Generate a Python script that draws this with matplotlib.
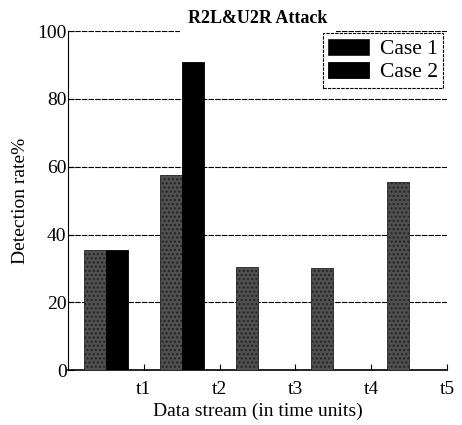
import numpy as np
import matplotlib.pyplot as plt

# Data
groups = [0.5, 1.5, 2.5, 3.5, 4.5]
case1 = [35.5, 57.5, 30.5, 30.0, 55.5]
case2 = [35.5, 91.0, 0, 0, 0]
tick_pos = [1, 2, 3, 4, 5]
tick_labels = ["t1", "t2", "t3", "t4", "t5"]

plt.rcParams["font.family"] = ["Liberation Serif", "DejaVu Serif"]
plt.rcParams["hatch.color"] = "#7a7a7a"

fig = plt.figure(figsize=(4.62, 4.25), dpi=100)
ax = fig.add_axes([0.147, 0.129, 0.821, 0.798])

w = 0.29
x = np.array(groups)
ax.bar(x - w / 2, case1, width=w, color="#505050", edgecolor="#222222",
       linewidth=0.6, hatch="....", label="Case 1", zorder=3)
ax.bar(x + w / 2, case2, width=w, color="black", edgecolor="black",
       linewidth=0.6, label="Case 2", zorder=3)

ax.set_xlim(0, 5)
ax.set_ylim(0, 100)
ax.set_xticks(tick_pos)
ax.set_xticklabels(tick_labels, fontsize=14)
ax.set_yticks([0, 20, 40, 60, 80, 100])
ax.tick_params(axis="y", labelsize=14, direction="in", length=4, pad=1)
ax.tick_params(axis="x", direction="in", length=4, pad=8)

ax.grid(axis="y", color="black", linestyle=(0, (5, 1)), linewidth=0.8, zorder=0)
ax.spines["top"].set_visible(False)
ax.spines["right"].set_visible(False)
ax.spines["left"].set_linestyle((0, (3, 1)))
ax.spines["bottom"].set_linewidth(1.2)

ax.set_xlabel("Data stream (in time units)", fontsize=14, labelpad=3)
ax.set_ylabel("Detection rate%", fontsize=14, labelpad=6)
ax.set_title("R2L&U2R Attack", fontsize=13, fontweight="bold", pad=6,
             bbox=dict(facecolor="white", edgecolor="none", pad=6))

leg = ax.legend(loc="upper right", bbox_to_anchor=(0.99, 0.993), fontsize=15.5,
                handlelength=1.9, handleheight=0.8, borderpad=0.25,
                labelspacing=0.1, handletextpad=0.5, borderaxespad=0,
                fancybox=False, framealpha=1, edgecolor="black")
for h in leg.legend_handles:
    h.set_facecolor("black")
    h.set_hatch(None)
leg.get_frame().set_linestyle((0, (3, 1)))
leg.get_frame().set_linewidth(0.8)

plt.savefig("out.png", dpi=100)
